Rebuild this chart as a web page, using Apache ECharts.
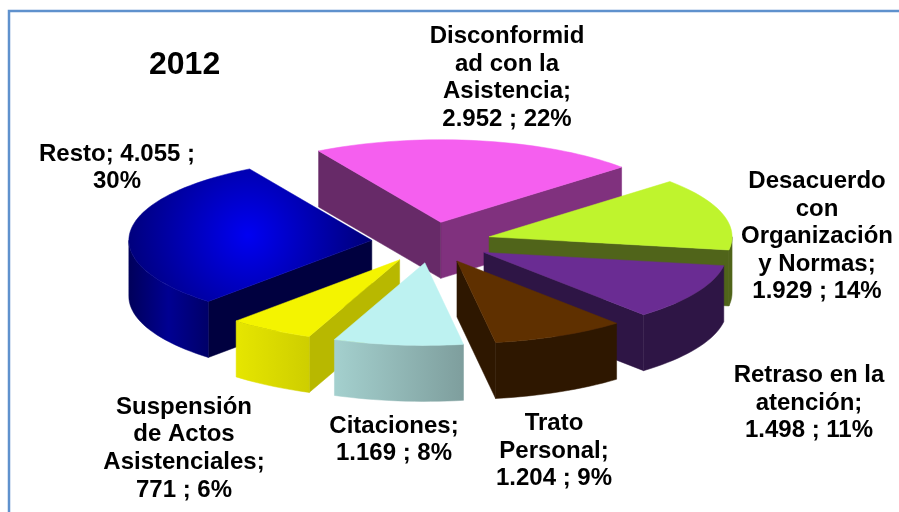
<!DOCTYPE html>
<html>
<head>
<meta charset="utf-8">
<style>html,body{margin:0;padding:0;background:#fff}#c{width:899px;height:512px}</style>
<script src="https://cdn.jsdelivr.net/npm/echarts@6/dist/echarts.min.js"></script>
</head>
<body>
<div id="c"></div>
<script>
// ---- data (clockwise from the top-left edge of the first slice)
const chartTitle = '2012';
const sliceNames = ['Disconformidad con la Asistencia','Desacuerdo con Organización y Normas','Retraso en la atención','Trato Personal','Citaciones','Suspensión de Actos Asistenciales','Resto'];
const sliceValues = [2952, 1929, 1498, 1204, 1169, 771, 4055];
const slicePercents = ['22%', '14%', '11%', '9%', '8%', '6%', '30%'];
const sliceValueLabels = ['2.952', '1.929', '1.498', '1.204', '1.169', '771', '4.055'];
const labelNameLines = [
  ['Disconformid','ad con la','Asistencia;'],
  ['Desacuerdo','con','Organización','y Normas;'],
  ['Retraso en la','atención;'],
  ['Trato','Personal;'],
  ['Citaciones;'],
  ['Suspensión','de Actos','Asistenciales;'],
  ['Resto; 4.055 ;']
];
// ---- layout and style
const labelCentres = [[507,78],[817,236.5],[809,403],[554,451],[394,440],[184,448.5],[117,168]];
const pie = {cx:431.5, cy:242.5, rx:243, tilt:0.34, explode:60, depth:56, start:120.2};
const topFill = ['#F55FEF','#BFF42D','#6A2C93','#5F3000','#BDF2F1','#F4F400',null];
const startWall = ['#672A68',null,null,null,null,'#B8B800','#00003F'];
const endWall = ['#80317E','#50641A','#2E1545','#2E1700',null,null,null];
const arcStops = [
  null,
  ['#50641A','#50641A'],
  ['#2E1545','#2E1545'],
  ['#2E1700','#2E1700'],
  ['#A4D0CE','#7E9E9D'],
  ['#E6E600','#CECE00'],
  ['#00005A','#000092','#000068']
];

const total = sliceValues.reduce((a,b)=>a+b,0);
let acc = pie.start;
const slices = sliceValues.map((v,i)=>{
  const a0 = acc, a1 = acc - v/total*360; acc = a1;
  return {i, a0, a1, mid:(a0+a1)/2};
});
const rad = d => d*Math.PI/180;
const order = slices.slice().sort((p,q)=>Math.sin(rad(q.mid))-Math.sin(rad(p.mid)));

function linear(stops){
  return new echarts.graphic.LinearGradient(0,0,1,0,stops.map((c,k)=>({offset:k/(stops.length-1),color:c})));
}
function renderSlice(params, api){
  const s = slices[api.value(0)];
  const ax = pie.cx + pie.explode*Math.cos(rad(s.mid));
  const ay = pie.cy - pie.explode*pie.tilt*Math.sin(rad(s.mid));
  const P = d => [ax + pie.rx*Math.cos(rad(d)), ay - pie.rx*pie.tilt*Math.sin(rad(d))];
  const down = p => [p[0], p[1]+pie.depth];
  const arc = (from,to) => { const n = Math.max(2,Math.ceil(Math.abs(from-to)/2)), r=[];
    for(let k=0;k<=n;k++) r.push(P(from+(to-from)*k/n)); return r; };
  const poly = (points, fill) => ({type:'polygon', shape:{points}, style:{fill, stroke:fill, lineWidth:0.5}});
  const kids = [];
  const apex = [ax,ay];
  if(endWall[s.i]){ const e=P(s.a1); kids.push(poly([apex,e,down(e),down(apex)],endWall[s.i])); }
  if(startWall[s.i]){ const e=P(s.a0); kids.push(poly([apex,e,down(e),down(apex)],startWall[s.i])); }
  // the part of the rim that faces the viewer
  let from = s.a0, to = s.a1;
  for(const [lo,hi] of [[-180,0],[-540,-360]]){
    const f=Math.min(from,hi), t=Math.max(to,lo);
    if(f>t && arcStops[s.i]){
      const r=arc(f,t);
      kids.push(poly(r.concat(r.slice().reverse().map(down)),linear(arcStops[s.i])));
    }
  }
  let fill = topFill[s.i];
  if(!fill) fill = new echarts.graphic.RadialGradient(0.49,0.5,0.92,[{offset:0,color:'#0000F2'},{offset:1,color:'#00007A'}]);
  kids.push(poly([apex].concat(arc(s.a0,s.a1)),fill));
  return {type:'group',children:kids};
}

const FONT = '"Liberation Sans", Arial, sans-serif';
const textEls = sliceNames.map((n,i)=>{
  const tail = i===6 ? [slicePercents[i]] : [sliceValueLabels[i]+' ; '+slicePercents[i]];
  return {type:'text', z:100, x:labelCentres[i][0], y:labelCentres[i][1],
    style:{text:labelNameLines[i].concat(tail).join('\n'), align:'center', verticalAlign:'middle',
      font:'bold 24px '+FONT, lineHeight:27.6, fill:'#000'}};
});

const chart = echarts.init(document.getElementById('c'),null,{renderer:'canvas'});
chart.setOption({
  animation:false,
  backgroundColor:'#fff',
  title:{text:chartTitle,left:144,top:44,textStyle:{fontFamily:FONT,fontWeight:'bold',fontSize:32,color:'#000'}},
  graphic:[{type:'rect',z:-1,shape:{x:9,y:11,width:1000,height:1000},style:{fill:'#fff',stroke:'#5F91CD',lineWidth:2.5}}].concat(textEls),
  series:[{type:'custom',coordinateSystem:'none',renderItem:renderSlice,
    data:order.map(s=>({name:sliceNames[s.i],value:[s.i,sliceValues[s.i]]}))}]
});
</script>
</body>
</html>
